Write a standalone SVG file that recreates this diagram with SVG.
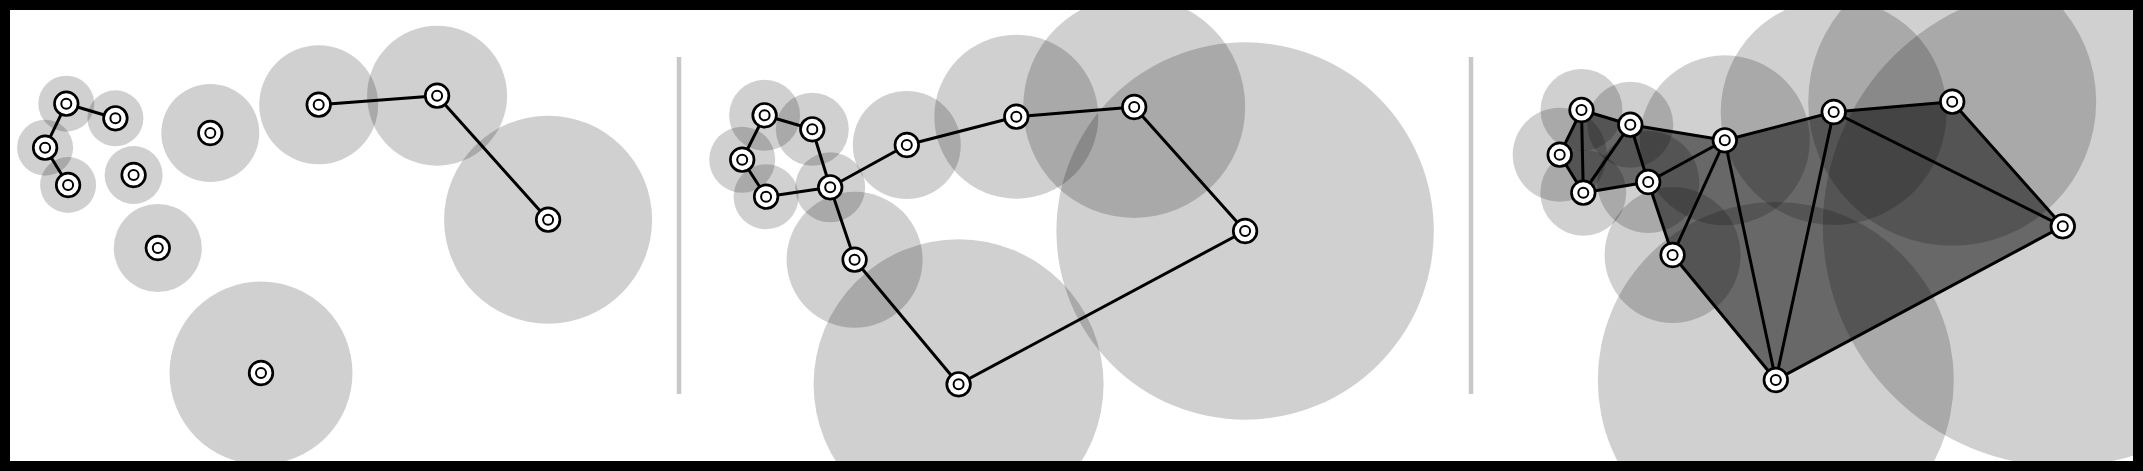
<svg xmlns="http://www.w3.org/2000/svg" xmlns:xlink="http://www.w3.org/1999/xlink" width="2143" height="471" viewBox="0 0 2143 471">
<style>
.halo{fill:#000;fill-opacity:0.185}
.edge{stroke:#000;stroke-width:3;fill:none;stroke-linecap:round;stroke-linejoin:round}
.tri{fill:#000;fill-opacity:0.5;stroke:none}
.divider{stroke:#c8c8c8;stroke-width:4.5}
.frame{fill:none;stroke:#000;stroke-width:10}
.ring{fill:#fff;stroke:#000;stroke-width:2.7}
.core{fill:#fff;stroke:#000;stroke-width:2}
</style>
<defs>
<g id="marker">
<circle class="ring" r="11.8"/>
<circle class="core" r="5"/>
</g>
</defs>
<rect x="0" y="0" width="2143" height="471" fill="#fff"/>
<g id="halos">
<circle class="halo" cx="66.3" cy="103.7" r="28"/>
<circle class="halo" cx="115.4" cy="118.3" r="28"/>
<circle class="halo" cx="45.1" cy="147.7" r="28"/>
<circle class="halo" cx="68.1" cy="185" r="28"/>
<circle class="halo" cx="133.6" cy="175" r="29"/>
<circle class="halo" cx="210.3" cy="133" r="49"/>
<circle class="halo" cx="318.7" cy="104.7" r="59.5"/>
<circle class="halo" cx="437.1" cy="95.7" r="70"/>
<circle class="halo" cx="548.1" cy="219.7" r="104"/>
<circle class="halo" cx="157.8" cy="248" r="44"/>
<circle class="halo" cx="261" cy="373" r="91.5"/>

<circle class="halo" cx="764.6" cy="115.3" r="35.5"/>
<circle class="halo" cx="812.3" cy="129.3" r="36.5"/>
<circle class="halo" cx="742.2" cy="159.7" r="33"/>
<circle class="halo" cx="766.1" cy="196.7" r="32.5"/>
<circle class="halo" cx="830.2" cy="187.3" r="35"/>
<circle class="halo" cx="906.8" cy="145" r="54"/>
<circle class="halo" cx="1016.3" cy="116.7" r="82"/>
<circle class="halo" cx="1134.2" cy="107" r="111"/>
<circle class="halo" cx="1245.1" cy="231" r="188.7"/>
<circle class="halo" cx="854.6" cy="259.7" r="68"/>
<circle class="halo" cx="958.6" cy="384.3" r="145"/>

<circle class="halo" cx="1581.5" cy="110" r="41"/>
<circle class="halo" cx="1630.3" cy="124.7" r="43"/>
<circle class="halo" cx="1559.7" cy="154.7" r="47"/>
<circle class="halo" cx="1583.3" cy="192.7" r="43"/>
<circle class="halo" cx="1648.2" cy="182" r="51"/>
<circle class="halo" cx="1724.8" cy="140.3" r="85"/>
<circle class="halo" cx="1833.7" cy="112" r="113"/>
<circle class="halo" cx="1952.2" cy="101.7" r="144"/>
<circle class="halo" cx="2062.8" cy="226.3" r="240"/>
<circle class="halo" cx="1672.6" cy="255" r="68"/>
<circle class="halo" cx="1775.8" cy="380" r="178"/>
</g>
<g id="fill-region">
<polygon class="tri" points="1581.5,110 1630.3,124.7 1724.8,140.3 1833.7,112 1952.2,101.7 2062.8,226.3 1775.8,380 1672.6,255 1648.2,182 1583.3,192.7 1559.7,154.7"/>
</g>
<g id="dividers">
<line class="divider" x1="679" y1="57" x2="679" y2="394"/>
<line class="divider" x1="1471" y1="57" x2="1471" y2="394"/>
</g>
<g id="connectors">
<line class="edge" x1="66.3" y1="103.7" x2="115.4" y2="118.3"/>
<line class="edge" x1="66.3" y1="103.7" x2="45.1" y2="147.7"/>
<line class="edge" x1="45.1" y1="147.7" x2="68.1" y2="185"/>
<line class="edge" x1="318.7" y1="104.7" x2="437.1" y2="95.7"/>
<line class="edge" x1="437.1" y1="95.7" x2="548.1" y2="219.7"/>

<polyline class="edge" points="742.2,159.7 764.6,115.3 812.3,129.3 830.2,187.3 766.1,196.7 742.2,159.7"/>
<polyline class="edge" points="830.2,187.3 906.8,145 1016.3,116.7 1134.2,107 1245.1,231 958.6,384.3 854.6,259.7 830.2,187.3"/>

<line class="edge" x1="1581.5" y1="110" x2="1630.3" y2="124.7"/>
<line class="edge" x1="1581.5" y1="110" x2="1559.7" y2="154.7"/>
<line class="edge" x1="1581.5" y1="110" x2="1583.3" y2="192.7"/>
<line class="edge" x1="1559.7" y1="154.7" x2="1583.3" y2="192.7"/>
<line class="edge" x1="1630.3" y1="124.7" x2="1583.3" y2="192.7"/>
<line class="edge" x1="1630.3" y1="124.7" x2="1648.2" y2="182"/>
<line class="edge" x1="1583.3" y1="192.7" x2="1648.2" y2="182"/>
<line class="edge" x1="1630.3" y1="124.7" x2="1724.8" y2="140.3"/>
<line class="edge" x1="1648.2" y1="182" x2="1724.8" y2="140.3"/>
<line class="edge" x1="1648.2" y1="182" x2="1672.6" y2="255"/>
<line class="edge" x1="1724.8" y1="140.3" x2="1672.6" y2="255"/>
<line class="edge" x1="1724.8" y1="140.3" x2="1775.8" y2="380"/>
<line class="edge" x1="1672.6" y1="255" x2="1775.8" y2="380"/>
<line class="edge" x1="1724.8" y1="140.3" x2="1833.7" y2="112"/>
<line class="edge" x1="1833.7" y1="112" x2="1775.8" y2="380"/>
<line class="edge" x1="1833.7" y1="112" x2="1952.2" y2="101.7"/>
<line class="edge" x1="1833.7" y1="112" x2="2062.8" y2="226.3"/>
<line class="edge" x1="1952.2" y1="101.7" x2="2062.8" y2="226.3"/>
<line class="edge" x1="1775.8" y1="380" x2="2062.8" y2="226.3"/>
</g>
<g id="panel1-nodes">
<use id="p1-a" xlink:href="#marker" x="66.3" y="103.7"/>
<use id="p1-b" xlink:href="#marker" x="115.4" y="118.3"/>
<use id="p1-c" xlink:href="#marker" x="45.1" y="147.7"/>
<use id="p1-d" xlink:href="#marker" x="68.1" y="185"/>
<use id="p1-e" xlink:href="#marker" x="133.6" y="175"/>
<use id="p1-f" xlink:href="#marker" x="210.3" y="133"/>
<use id="p1-g" xlink:href="#marker" x="318.7" y="104.7"/>
<use id="p1-h" xlink:href="#marker" x="437.1" y="95.7"/>
<use id="p1-i" xlink:href="#marker" x="548.1" y="219.7"/>
<use id="p1-j" xlink:href="#marker" x="157.8" y="248"/>
<use id="p1-k" xlink:href="#marker" x="261" y="373"/>
</g>
<g id="panel2-nodes">
<use id="p2-a" xlink:href="#marker" x="764.6" y="115.3"/>
<use id="p2-b" xlink:href="#marker" x="812.3" y="129.3"/>
<use id="p2-c" xlink:href="#marker" x="742.2" y="159.7"/>
<use id="p2-d" xlink:href="#marker" x="766.1" y="196.7"/>
<use id="p2-e" xlink:href="#marker" x="830.2" y="187.3"/>
<use id="p2-f" xlink:href="#marker" x="906.8" y="145"/>
<use id="p2-g" xlink:href="#marker" x="1016.3" y="116.7"/>
<use id="p2-h" xlink:href="#marker" x="1134.2" y="107"/>
<use id="p2-i" xlink:href="#marker" x="1245.1" y="231"/>
<use id="p2-j" xlink:href="#marker" x="854.6" y="259.7"/>
<use id="p2-k" xlink:href="#marker" x="958.6" y="384.3"/>
</g>
<g id="panel3-nodes">
<use id="p3-a" xlink:href="#marker" x="1581.5" y="110"/>
<use id="p3-b" xlink:href="#marker" x="1630.3" y="124.7"/>
<use id="p3-c" xlink:href="#marker" x="1559.7" y="154.7"/>
<use id="p3-d" xlink:href="#marker" x="1583.3" y="192.7"/>
<use id="p3-e" xlink:href="#marker" x="1648.2" y="182"/>
<use id="p3-f" xlink:href="#marker" x="1724.8" y="140.3"/>
<use id="p3-g" xlink:href="#marker" x="1833.7" y="112"/>
<use id="p3-h" xlink:href="#marker" x="1952.2" y="101.7"/>
<use id="p3-i" xlink:href="#marker" x="2062.8" y="226.3"/>
<use id="p3-j" xlink:href="#marker" x="1672.6" y="255"/>
<use id="p3-k" xlink:href="#marker" x="1775.8" y="380"/>
</g>
<rect class="frame" x="5" y="5" width="2133" height="461"/>
</svg>
